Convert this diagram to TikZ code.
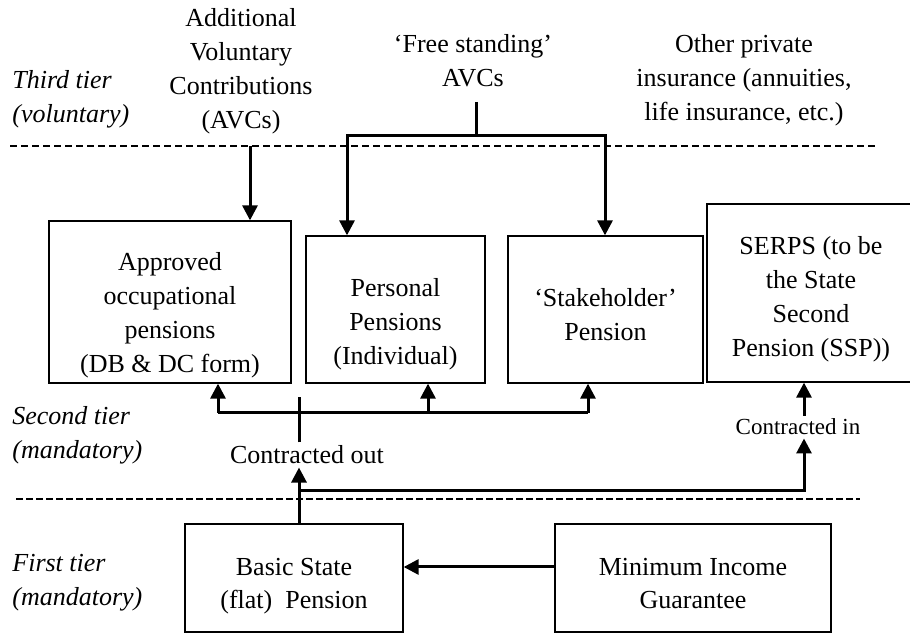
\documentclass[tikz,border=0pt]{standalone}
\usepackage{fontspec}
\setmainfont{Liberation Serif}
\usetikzlibrary{arrows.meta,calc,positioning}
\tikzset{
	tier diagram/.style={
		x=.5pt, y=-.5pt,
		font=\fontsize{13}{17}\selectfont,
		ar/.style={line width=1.5pt, -{Triangle[length=7.5pt,width=7.5pt]}},
		ln/.style={line width=1.5pt},
		box/.style={draw, line width=.65pt, inner sep=0pt, align=center, text depth=0pt},
		lbl/.style={align=center, inner sep=1.5pt},
		tier/.style={align=left, anchor=west, inner sep=0pt,
			font=\fontsize{13}{17}\selectfont\itshape},
		tier line/.style={line width=.6pt, dash pattern=on 3.5pt off 2pt}
	}
}
\begin{document}
\begin{tikzpicture}[tier diagram]
   \useasboundingbox (0,0) rectangle (910,635);
   % tier names and borders
   \node[tier] (t3) at (12,99) {Third tier\\(voluntary)};
   \node[tier] (t2) at (12,435) {Second tier\\(mandatory)};
   \node[tier] (t1) at (12,583) {First tier\\(mandatory)};
   \draw[tier line] (10,146) -- (878,146);
   \draw[tier line, line width=1.3pt, dash pattern=on 3.5pt off 1.5pt] (16,499) -- (860,499);
   % third tier
   \node[lbl] (avc) at (241,71) {Additional\\Voluntary\\Contributions\\(AVCs)};
   \node[lbl] (fsavc) at (473,61) {‘Free standing’\\AVCs};
   \node[lbl] (other) at (744,80) {Other private\\insurance (annuities,\\life insurance, etc.)};
   % second tier
   \node[box, minimum width=121pt, minimum height=81pt, text height=71pt] (occ) at (170,302) {Approved\\occupational\\pensions\\(DB \& DC form)};
   \node[box, minimum width=89.5pt, minimum height=73.5pt, text height=55.5pt] (pp) at (395.5,309.5) {Personal\\Pensions\\(Individual)};
   \node[box, minimum width=97.5pt, minimum height=73.5pt, text height=31.5pt] (stake) at (605.5,309.5) {‘Stakeholder’\\Pension};
   \node[box, minimum width=104pt, minimum height=89pt, text height=64pt] (serps) at (811,293) {SERPS (to be\\the State\\Second\\Pension (SSP))};
   \node[lbl] (co) at (307,455) {Contracted out};
   \node[lbl, font=\fontsize{11.5}{14}\selectfont] (ci) at (798,427) {Contracted in};
   % first tier
   \node[box, minimum width=109pt, minimum height=54pt, text height=31pt] (basic) at (294,578) {Basic State\\(flat)~~Pension};
   \node[box, minimum width=138pt, minimum height=54pt, text height=31pt] (mig) at (693,578) {Minimum Income\\Guarantee};
   % joints
   \coordinate (avcout) at (250,146);
   \coordinate (fstop) at (476,102);
   \coordinate (fsjoin) at (476,136);
   \coordinate (fs1) at (347,136);
   \coordinate (fs2) at (605,136);
   \coordinate (br1) at (218,413);
   \coordinate (br2) at (428,413);
   \coordinate (br3) at (588,413);
   \coordinate (cojoin) at (299,413);
   \coordinate (ciknee) at (804,491);
   % voluntary
   \draw[ar] (avcout) -- (avcout |- occ.north);
   \draw[ln] (fstop) -- (fsjoin);
   \draw[ar] (fsjoin) -- (fs1) -- (fs1 |- pp.north);
   \draw[ar] (fsjoin) -- (fs2) -- (fs2 |- stake.north);
   % contracted out
   \draw[ln] (br1) -- (br3);
   \draw[ar] (br1) -- (br1 |- occ.south);
   \draw[ar] (br2) -- (br2 |- pp.south);
   \draw[ar] (br3) -- (br3 |- stake.south);
   \draw[ln] (cojoin |- co.north) -- ($(cojoin)+(0,-16)$);
   \draw[ar] (cojoin |- basic.north) -- (cojoin |- co.south);
   % contracted in
   \draw[ar] (cojoin |- ciknee) -- (ciknee) -- (ciknee |- ci.south);
   \draw[ar] (ciknee |- ci.north) -- (ciknee |- serps.south);
   \draw[ar] ([yshift=5.5pt]mig.west) -- ([yshift=5.5pt]basic.east);
\end{tikzpicture}
\end{document}
